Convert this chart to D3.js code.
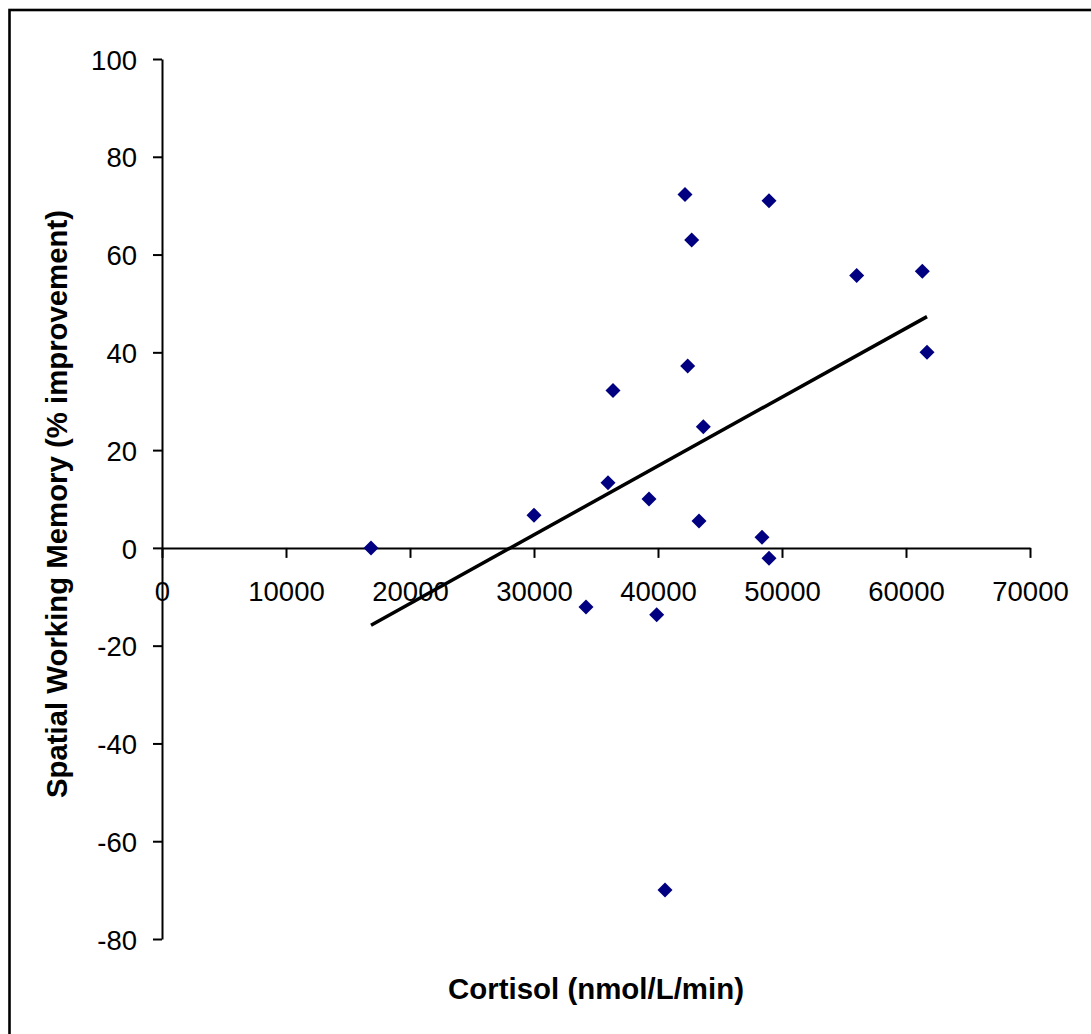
<!DOCTYPE html>
<html>
<head>
<meta charset="utf-8">
<script src="https://cdn.jsdelivr.net/npm/d3@7"></script>
<style>
  body { margin: 0; background: #fff; }
  svg { display: block; font-family: "Liberation Sans", Arial, sans-serif; }
</style>
</head>
<body>
<svg id="chart" width="1091" height="1034"></svg>
<script>
// values
const cortisol = [16855, 30000, 34194, 35968, 36371, 39274, 39895, 40565, 42177, 42718,
                  42395, 43653, 43306, 48952, 48387, 48952, 56024, 61315, 61694];
const swm = [0, 6.7, -12.1, 13.3, 32.2, 10.0, -13.7, -70.0, 72.3, 63.0,
             37.2, 24.8, 5.5, 71.0, 2.2, -2.1, 55.7, 56.6, 40.0];
const xTicks = [0, 10000, 20000, 30000, 40000, 50000, 60000, 70000];
const yTicks = [-80, -60, -40, -20, 0, 20, 40, 60, 80, 100];

const points = cortisol.map((c, i) => ({ x: c, y: swm[i] }));

const svg = d3.select("#chart");

// outer frame (runs past the right and bottom edge)
svg.append("rect")
  .attr("x", 9.5).attr("y", 10)
  .attr("width", 1200).attr("height", 1200)
  .attr("fill", "none")
  .attr("stroke", "#000")
  .attr("stroke-width", 2.6);

const x = d3.scaleLinear().domain([0, 70000]).range([162, 1030]);
const y = d3.scaleLinear().domain([-80, 100]).range([939, 59]);

// plain hyphen for negatives, like the original
const plain = d => String(d);

// y axis
svg.append("g")
  .attr("transform", `translate(${x(0)},0)`)
  .call(d3.axisLeft(y).tickValues(yTicks).tickFormat(plain)
    .tickSize(9).tickSizeOuter(0).tickPadding(16))
  .call(g => g.selectAll("text").attr("dy", "0.37em"));

// x axis crosses at y = 0
svg.append("g")
  .attr("transform", `translate(0,${y(0)})`)
  .call(d3.axisBottom(x).tickValues(xTicks).tickFormat(plain)
    .tickSize(10).tickSizeOuter(0).tickPadding(24));

svg.selectAll(".domain, .tick line").attr("stroke", "#000").attr("stroke-width", 2);
svg.selectAll(".tick text")
  .attr("fill", "#000")
  .attr("font-size", 27.5)
  .attr("font-family", "'Liberation Sans', Arial, sans-serif");

// least-squares trend line over the data range
const mx = d3.mean(points, d => d.x);
const my = d3.mean(points, d => d.y);
const slope = d3.sum(points, d => (d.x - mx) * (d.y - my)) / d3.sum(points, d => (d.x - mx) ** 2);
const icpt = my - slope * mx;
const [x0, x1] = d3.extent(points, d => d.x);

svg.append("line")
  .attr("x1", x(x0)).attr("y1", y(icpt + slope * x0))
  .attr("x2", x(x1)).attr("y2", y(icpt + slope * x1))
  .attr("stroke", "#000")
  .attr("stroke-width", 3.5);

// diamonds
svg.append("g")
  .selectAll("path")
  .data(points)
  .join("path")
  .attr("transform", d => `translate(${x(d.x)},${y(d.y)})`)
  .attr("d", "M0,-7.5L7.5,0L0,7.5L-7.5,0Z")
  .attr("fill", "#000080");

// axis titles
svg.append("text")
  .attr("x", 596).attr("y", 999)
  .attr("text-anchor", "middle")
  .attr("font-size", 29)
  .attr("font-weight", "bold")
  .attr("textLength", 296)
  .attr("lengthAdjust", "spacingAndGlyphs")
  .text("Cortisol (nmol/L/min)");

svg.append("text")
  .attr("transform", "translate(67,504) rotate(-90)")
  .attr("text-anchor", "middle")
  .attr("font-size", 29)
  .attr("font-weight", "bold")
  .attr("textLength", 588)
  .attr("lengthAdjust", "spacingAndGlyphs")
  .text("Spatial Working Memory (% improvement)");
</script>
</body>
</html>
